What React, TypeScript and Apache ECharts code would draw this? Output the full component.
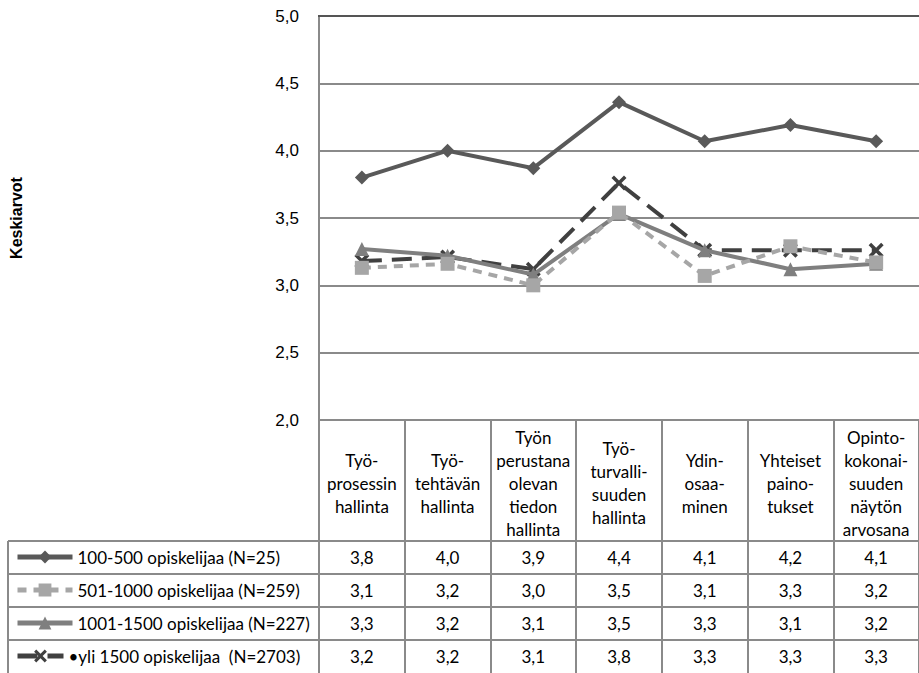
import React, { useEffect, useRef } from "react";
import * as echarts from "echarts";

const categories = [
  "Työ-\nprosessin\nhallinta",
  "Työ-\ntehtävän\nhallinta",
  "Työn\nperustana\nolevan\ntiedon\nhallinta",
  "Työ-\nturvalli-\nsuuden\nhallinta",
  "Ydin-\nosaa-\nminen",
  "Yhteiset\npaino-\ntukset",
  "Opinto-\nkokonai-\nsuuden\nnäytön\narvosana",
];

const seriesNames = [
  "100-500 opiskelijaa (N=25)",
  "501-1000 opiskelijaa (N=259)",
  "1001-1500 opiskelijaa (N=227)",
  "yli 1500 opiskelijaa  (N=2703)",
];

const s1 = [3.8, 4.0, 3.87, 4.36, 4.07, 4.19, 4.07];
const s2 = [3.13, 3.16, 3.0, 3.54, 3.07, 3.29, 3.17];
const s3 = [3.27, 3.22, 3.08, 3.53, 3.26, 3.12, 3.16];
const s4 = [3.18, 3.21, 3.12, 3.76, 3.26, 3.26, 3.26];

const yTicks = { min: 2, max: 5, interval: 0.5 };

const fmt = (v: number) => (Math.round(v * 10) / 10).toFixed(1).replace(".", ",");

const CROSS = "path://M2,0 L6,4 L10,0 L12,2 L8,6 L12,10 L10,12 L6,8 L2,12 L0,10 L4,6 L0,2 Z";

export default function App() {
  const ref = useRef<HTMLDivElement>(null);
  useEffect(() => {
    if (!ref.current) return;
    const chart = echarts.init(ref.current, null, { renderer: "svg" });
    const tableFont = "Lato, 'Open Sans', sans-serif";
    const arial = "Arial, 'Liberation Sans', sans-serif";
    const gridLeft = 318;
    const gridTop = 16;
    const plotBottom = 420;
    const H = 673;
    const W = 919;
    const lineColor = "#8a8a8a";
    const rows = [s1, s2, s3, s4];
    const rowTop = 541;
    const rowH = 33;

    const tableAxes = rows.map((vals, i) => ({
      type: "category",
      gridIndex: 0,
      position: "bottom",
      offset: rowTop + rowH * i + rowH / 2 - plotBottom,
      data: vals.map(fmt),
      axisLine: { show: false },
      axisTick: { show: false },
      axisLabel: {
        margin: 0,
        verticalAlign: "middle",
        fontSize: 17,
        fontFamily: tableFont,
        color: "#000",
        interval: 0,
      },
    }));

    const hLines = [rowTop, rowTop + rowH, rowTop + 2 * rowH, rowTop + 3 * rowH].map((y) => ({
      type: "line",
      shape: { x1: 8, y1: y, x2: W, y2: y },
      style: { stroke: lineColor, lineWidth: 2 },
    }));

    const colors = ["#595959", "#a6a6a6", "#7f7f7f", "#404040"];
    const symbols = ["diamond", "rect", "triangle", CROSS];
    const dashes: any[] = ["solid", [9, 7], "solid", [20, 10]];
    const data = [s1, s2, s3, s4];

    const legends = seriesNames.map((name, i) => ({
      orient: "horizontal",
      left: 15,
      top: rowTop + rowH * i + rowH / 2 - 9,
      itemWidth: i === 3 ? 46 : 55,
      itemHeight: 16,
      padding: 0,
      itemGap: 5,
      lineStyle: { width: 5 },
      textStyle: { fontSize: 17, fontFamily: tableFont, color: "#000" },
      formatter: (n: string) => (n === seriesNames[3] ? "•" + n : n),
      data: [name],
    }));

    chart.setOption({
      animation: false,
      backgroundColor: "#fff",
      grid: { left: gridLeft, right: 0, top: gridTop, height: plotBottom - gridTop },
      legend: legends,
      xAxis: [
        {
          type: "category",
          data: categories,
          boundaryGap: true,
          axisLine: { show: true, lineStyle: { color: lineColor, width: 2 } },
          axisTick: {
            show: true,
            alignWithLabel: false,
            length: H - plotBottom,
            lineStyle: { color: lineColor, width: 2 },
          },
          axisLabel: {
            interval: 0,
            margin: 63,
            verticalAlign: "middle",
            align: "center",
            fontSize: 17,
            lineHeight: 23,
            fontFamily: tableFont,
            color: "#000",
          },
          splitLine: { show: false },
        },
        ...tableAxes,
      ],
      yAxis: {
        type: "value",
        min: yTicks.min,
        max: yTicks.max,
        interval: yTicks.interval,
        name: "Keskiarvot",
        nameLocation: "middle",
        nameGap: 295,
        nameRotate: 90,
        nameTextStyle: { fontSize: 16, fontWeight: "bold", fontFamily: arial, color: "#000" },
        axisLine: { show: true, lineStyle: { color: lineColor, width: 2 } },
        axisTick: { show: false },
        axisLabel: {
          margin: 20,
          fontSize: 17,
          fontFamily: arial,
          color: "#000",
          formatter: (v: number) => v.toFixed(1).replace(".", ","),
        },
        splitLine: { show: true, lineStyle: { color: lineColor, width: 2 } },
      },
      series: data.map((d, i) => ({
        name: seriesNames[i],
        type: "line",
        xAxisIndex: 0,
        data: d,
        symbol: symbols[i],
        symbolSize: i === 3 ? 15 : 14,
        showAllSymbol: true,
        color: colors[i],
        lineStyle: { color: colors[i], width: 4, type: dashes[i] },
        itemStyle: { color: colors[i] },
        z: 10 - i,
      })),
      graphic: [
        ...hLines,
        {
          type: "line",
          shape: { x1: 8, y1: rowTop, x2: 8, y2: H },
          style: { stroke: lineColor, lineWidth: 2 },
        },
        {
          type: "line",
          shape: { x1: gridLeft, y1: gridTop, x2: W, y2: gridTop },
          style: { stroke: "#555", lineWidth: 2 },
          z: 5,
        },
      ],
    });
    return () => chart.dispose();
  }, []);
  return (
    <div
      ref={ref}
      style={{ position: "absolute", left: 0, top: 0, width: 919, height: 673 }}
    />
  );
}
